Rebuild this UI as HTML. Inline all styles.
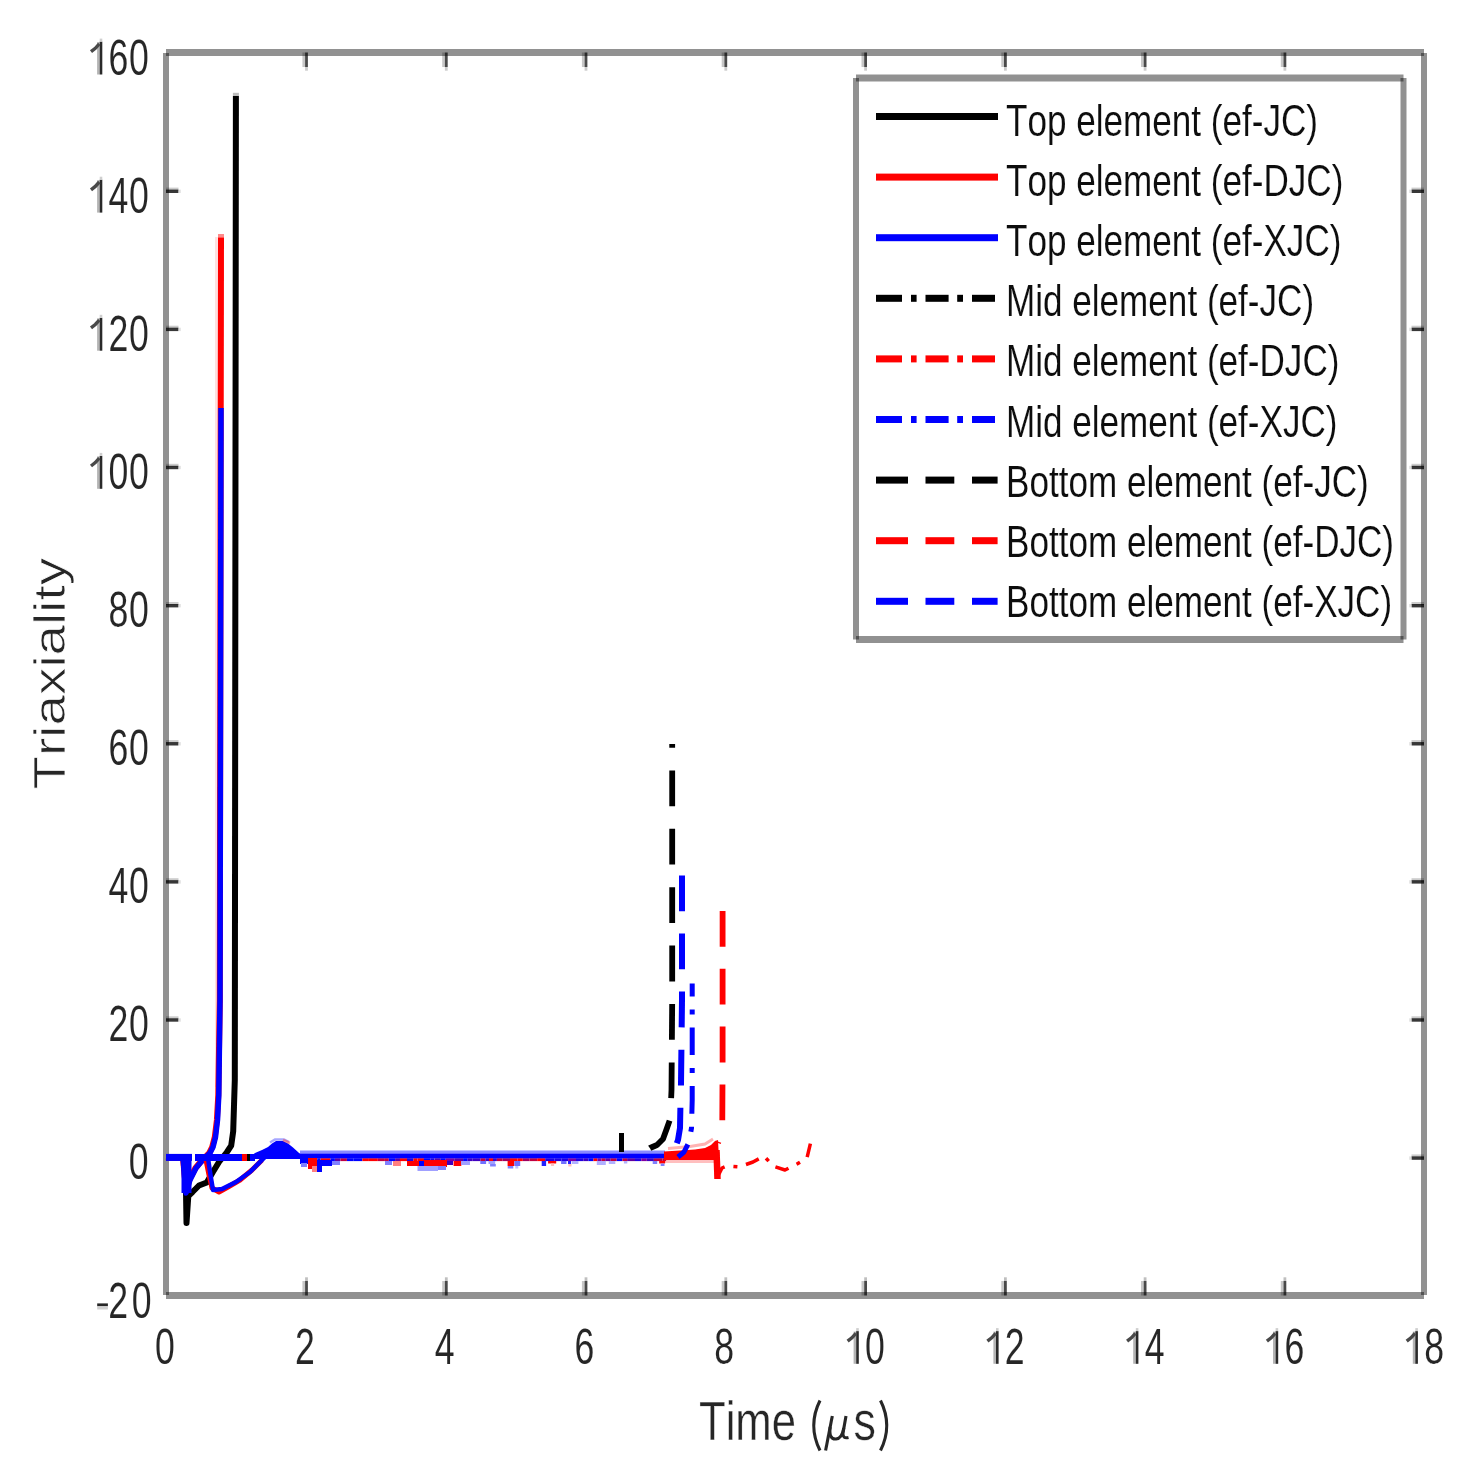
<!DOCTYPE html>
<html><head><meta charset="utf-8"><style>
html,body{margin:0;padding:0;background:#fff;}
body{width:1475px;height:1475px;overflow:hidden;}
svg{display:block;}
text{font-kerning:none;font-feature-settings:"kern" 0;}
</style></head><body>
<svg width="1475" height="1475" viewBox="0 0 1475 1475">
<defs><filter id="bl" x="0" y="0" width="1" height="1"><feGaussianBlur stdDeviation="0.55"/></filter></defs>
<rect width="1475" height="1475" fill="#fff"/>
<g filter="url(#bl)">
<rect width="1475" height="1475" fill="#fff"/>
<rect x="166.0" y="49.0" width="1258.0" height="7.0" fill="rgba(0,0,0,0.43)"/>
<rect x="166.0" y="1292.0" width="1258.0" height="7.0" fill="rgba(0,0,0,0.43)"/>
<rect x="163.0" y="53.0" width="6.0" height="1242.0" fill="rgba(0,0,0,0.43)"/>
<rect x="1421.0" y="53.0" width="6.0" height="1242.0" fill="rgba(0,0,0,0.43)"/>
<rect x="166.0" y="187.6" width="12.5" height="3.0" fill="rgba(0,0,0,0.2)"/>
<rect x="166.0" y="189.6" width="12.3" height="3.4" fill="rgba(0,0,0,0.78)"/>
<rect x="178.3" y="189.6" width="2.5" height="3.4" fill="rgba(0,0,0,0.12)"/>
<rect x="1411.5" y="187.6" width="12.5" height="3.0" fill="rgba(0,0,0,0.2)"/>
<rect x="1411.7" y="189.6" width="12.3" height="3.4" fill="rgba(0,0,0,0.78)"/>
<rect x="1409.2" y="189.6" width="2.5" height="3.4" fill="rgba(0,0,0,0.12)"/>
<rect x="166.0" y="325.7" width="12.5" height="3.0" fill="rgba(0,0,0,0.2)"/>
<rect x="166.0" y="327.7" width="12.3" height="3.4" fill="rgba(0,0,0,0.78)"/>
<rect x="178.3" y="327.7" width="2.5" height="3.4" fill="rgba(0,0,0,0.12)"/>
<rect x="1411.5" y="325.7" width="12.5" height="3.0" fill="rgba(0,0,0,0.2)"/>
<rect x="1411.7" y="327.7" width="12.3" height="3.4" fill="rgba(0,0,0,0.78)"/>
<rect x="1409.2" y="327.7" width="2.5" height="3.4" fill="rgba(0,0,0,0.12)"/>
<rect x="166.0" y="463.8" width="12.5" height="3.0" fill="rgba(0,0,0,0.2)"/>
<rect x="166.0" y="465.8" width="12.3" height="3.4" fill="rgba(0,0,0,0.78)"/>
<rect x="178.3" y="465.8" width="2.5" height="3.4" fill="rgba(0,0,0,0.12)"/>
<rect x="1411.5" y="463.8" width="12.5" height="3.0" fill="rgba(0,0,0,0.2)"/>
<rect x="1411.7" y="465.8" width="12.3" height="3.4" fill="rgba(0,0,0,0.78)"/>
<rect x="1409.2" y="465.8" width="2.5" height="3.4" fill="rgba(0,0,0,0.12)"/>
<rect x="166.0" y="602.0" width="12.5" height="3.0" fill="rgba(0,0,0,0.2)"/>
<rect x="166.0" y="604.0" width="12.3" height="3.4" fill="rgba(0,0,0,0.78)"/>
<rect x="178.3" y="604.0" width="2.5" height="3.4" fill="rgba(0,0,0,0.12)"/>
<rect x="1411.5" y="602.0" width="12.5" height="3.0" fill="rgba(0,0,0,0.2)"/>
<rect x="1411.7" y="604.0" width="12.3" height="3.4" fill="rgba(0,0,0,0.78)"/>
<rect x="1409.2" y="604.0" width="2.5" height="3.4" fill="rgba(0,0,0,0.12)"/>
<rect x="166.0" y="740.1" width="12.5" height="3.0" fill="rgba(0,0,0,0.2)"/>
<rect x="166.0" y="742.1" width="12.3" height="3.4" fill="rgba(0,0,0,0.78)"/>
<rect x="178.3" y="742.1" width="2.5" height="3.4" fill="rgba(0,0,0,0.12)"/>
<rect x="1411.5" y="740.1" width="12.5" height="3.0" fill="rgba(0,0,0,0.2)"/>
<rect x="1411.7" y="742.1" width="12.3" height="3.4" fill="rgba(0,0,0,0.78)"/>
<rect x="1409.2" y="742.1" width="2.5" height="3.4" fill="rgba(0,0,0,0.12)"/>
<rect x="166.0" y="878.2" width="12.5" height="3.0" fill="rgba(0,0,0,0.2)"/>
<rect x="166.0" y="880.2" width="12.3" height="3.4" fill="rgba(0,0,0,0.78)"/>
<rect x="178.3" y="880.2" width="2.5" height="3.4" fill="rgba(0,0,0,0.12)"/>
<rect x="1411.5" y="878.2" width="12.5" height="3.0" fill="rgba(0,0,0,0.2)"/>
<rect x="1411.7" y="880.2" width="12.3" height="3.4" fill="rgba(0,0,0,0.78)"/>
<rect x="1409.2" y="880.2" width="2.5" height="3.4" fill="rgba(0,0,0,0.12)"/>
<rect x="166.0" y="1016.3" width="12.5" height="3.0" fill="rgba(0,0,0,0.2)"/>
<rect x="166.0" y="1018.3" width="12.3" height="3.4" fill="rgba(0,0,0,0.78)"/>
<rect x="178.3" y="1018.3" width="2.5" height="3.4" fill="rgba(0,0,0,0.12)"/>
<rect x="1411.5" y="1016.3" width="12.5" height="3.0" fill="rgba(0,0,0,0.2)"/>
<rect x="1411.7" y="1018.3" width="12.3" height="3.4" fill="rgba(0,0,0,0.78)"/>
<rect x="1409.2" y="1018.3" width="2.5" height="3.4" fill="rgba(0,0,0,0.12)"/>
<rect x="166.0" y="1154.4" width="12.5" height="3.0" fill="rgba(0,0,0,0.2)"/>
<rect x="166.0" y="1156.4" width="12.3" height="3.4" fill="rgba(0,0,0,0.78)"/>
<rect x="178.3" y="1156.4" width="2.5" height="3.4" fill="rgba(0,0,0,0.12)"/>
<rect x="1411.5" y="1154.4" width="12.5" height="3.0" fill="rgba(0,0,0,0.2)"/>
<rect x="1411.7" y="1156.4" width="12.3" height="3.4" fill="rgba(0,0,0,0.78)"/>
<rect x="1409.2" y="1156.4" width="2.5" height="3.4" fill="rgba(0,0,0,0.12)"/>
<rect x="302.4" y="1281.0" width="2.7" height="14.5" fill="rgba(0,0,0,0.22)"/>
<rect x="305.1" y="1281.0" width="2.8" height="14.5" fill="rgba(0,0,0,0.71)"/>
<rect x="305.1" y="1277.3" width="2.8" height="3.7" fill="rgba(0,0,0,0.25)"/>
<rect x="302.4" y="52.5" width="2.7" height="14.5" fill="rgba(0,0,0,0.22)"/>
<rect x="305.1" y="52.5" width="2.8" height="14.5" fill="rgba(0,0,0,0.71)"/>
<rect x="305.1" y="67.0" width="2.8" height="3.7" fill="rgba(0,0,0,0.2)"/>
<rect x="442.2" y="1281.0" width="2.7" height="14.5" fill="rgba(0,0,0,0.22)"/>
<rect x="444.9" y="1281.0" width="2.8" height="14.5" fill="rgba(0,0,0,0.71)"/>
<rect x="444.9" y="1277.3" width="2.8" height="3.7" fill="rgba(0,0,0,0.25)"/>
<rect x="442.2" y="52.5" width="2.7" height="14.5" fill="rgba(0,0,0,0.22)"/>
<rect x="444.9" y="52.5" width="2.8" height="14.5" fill="rgba(0,0,0,0.71)"/>
<rect x="444.9" y="67.0" width="2.8" height="3.7" fill="rgba(0,0,0,0.2)"/>
<rect x="581.9" y="1281.0" width="2.7" height="14.5" fill="rgba(0,0,0,0.22)"/>
<rect x="584.6" y="1281.0" width="2.8" height="14.5" fill="rgba(0,0,0,0.71)"/>
<rect x="584.6" y="1277.3" width="2.8" height="3.7" fill="rgba(0,0,0,0.25)"/>
<rect x="581.9" y="52.5" width="2.7" height="14.5" fill="rgba(0,0,0,0.22)"/>
<rect x="584.6" y="52.5" width="2.8" height="14.5" fill="rgba(0,0,0,0.71)"/>
<rect x="584.6" y="67.0" width="2.8" height="3.7" fill="rgba(0,0,0,0.2)"/>
<rect x="721.7" y="1281.0" width="2.7" height="14.5" fill="rgba(0,0,0,0.22)"/>
<rect x="724.4" y="1281.0" width="2.8" height="14.5" fill="rgba(0,0,0,0.71)"/>
<rect x="724.4" y="1277.3" width="2.8" height="3.7" fill="rgba(0,0,0,0.25)"/>
<rect x="721.7" y="52.5" width="2.7" height="14.5" fill="rgba(0,0,0,0.22)"/>
<rect x="724.4" y="52.5" width="2.8" height="14.5" fill="rgba(0,0,0,0.71)"/>
<rect x="724.4" y="67.0" width="2.8" height="3.7" fill="rgba(0,0,0,0.2)"/>
<rect x="861.5" y="1281.0" width="2.7" height="14.5" fill="rgba(0,0,0,0.22)"/>
<rect x="864.2" y="1281.0" width="2.8" height="14.5" fill="rgba(0,0,0,0.71)"/>
<rect x="864.2" y="1277.3" width="2.8" height="3.7" fill="rgba(0,0,0,0.25)"/>
<rect x="861.5" y="52.5" width="2.7" height="14.5" fill="rgba(0,0,0,0.22)"/>
<rect x="864.2" y="52.5" width="2.8" height="14.5" fill="rgba(0,0,0,0.71)"/>
<rect x="864.2" y="67.0" width="2.8" height="3.7" fill="rgba(0,0,0,0.2)"/>
<rect x="1001.3" y="1281.0" width="2.7" height="14.5" fill="rgba(0,0,0,0.22)"/>
<rect x="1004.0" y="1281.0" width="2.8" height="14.5" fill="rgba(0,0,0,0.71)"/>
<rect x="1004.0" y="1277.3" width="2.8" height="3.7" fill="rgba(0,0,0,0.25)"/>
<rect x="1001.3" y="52.5" width="2.7" height="14.5" fill="rgba(0,0,0,0.22)"/>
<rect x="1004.0" y="52.5" width="2.8" height="14.5" fill="rgba(0,0,0,0.71)"/>
<rect x="1004.0" y="67.0" width="2.8" height="3.7" fill="rgba(0,0,0,0.2)"/>
<rect x="1141.0" y="1281.0" width="2.7" height="14.5" fill="rgba(0,0,0,0.22)"/>
<rect x="1143.7" y="1281.0" width="2.8" height="14.5" fill="rgba(0,0,0,0.71)"/>
<rect x="1143.7" y="1277.3" width="2.8" height="3.7" fill="rgba(0,0,0,0.25)"/>
<rect x="1141.0" y="52.5" width="2.7" height="14.5" fill="rgba(0,0,0,0.22)"/>
<rect x="1143.7" y="52.5" width="2.8" height="14.5" fill="rgba(0,0,0,0.71)"/>
<rect x="1143.7" y="67.0" width="2.8" height="3.7" fill="rgba(0,0,0,0.2)"/>
<rect x="1280.8" y="1281.0" width="2.7" height="14.5" fill="rgba(0,0,0,0.22)"/>
<rect x="1283.5" y="1281.0" width="2.8" height="14.5" fill="rgba(0,0,0,0.71)"/>
<rect x="1283.5" y="1277.3" width="2.8" height="3.7" fill="rgba(0,0,0,0.25)"/>
<rect x="1280.8" y="52.5" width="2.7" height="14.5" fill="rgba(0,0,0,0.22)"/>
<rect x="1283.5" y="52.5" width="2.8" height="14.5" fill="rgba(0,0,0,0.71)"/>
<rect x="1283.5" y="67.0" width="2.8" height="3.7" fill="rgba(0,0,0,0.2)"/>
<polyline points="166.0,1157.4 183.0,1157.4 185.5,1162.0 186.5,1223.0 188.3,1196.0 192.5,1192.0 199.0,1185.5 206.8,1182.5 212.9,1172.0 219.0,1162.0 227.0,1152.0 231.2,1145.6 233.2,1131.4 234.8,1080.0 235.9,95.7" fill="none" stroke="#000000" stroke-width="6" stroke-linejoin="round" stroke-linecap="butt"/>
<rect x="232.9" y="92.8" width="6.0" height="2.9" fill="#bdbdbd"/>
<polyline points="166.0,1157.4 183.0,1158.0 186.0,1190.0 190.0,1178.0 195.5,1168.0 200.5,1162.0 205.3,1157.0 209.2,1153.0 212.2,1147.0 214.8,1137.0 216.9,1120.0 218.3,1095.0 219.8,1000.0 221.0,237.3" fill="none" stroke="#ff0000" stroke-width="6" stroke-linejoin="round" stroke-linecap="butt"/>
<rect x="218.0" y="234.0" width="6.0" height="3.3" fill="#ff8a8a"/>
<rect x="215.0" y="237.0" width="2.8" height="850.0" fill="rgba(255,0,0,0.12)"/>
<polyline points="166.0,1157.4 183.0,1158.0 186.0,1193.0 190.0,1180.0 196.0,1168.0 201.0,1162.0 206.0,1157.0 210.0,1153.0 213.0,1147.0 215.5,1137.0 217.5,1120.0 218.8,1095.0 220.0,1000.0 221.0,408.0" fill="none" stroke="#0000ff" stroke-width="5.5" stroke-linejoin="round" stroke-linecap="butt"/>
<rect x="181.5" y="1157.0" width="10.0" height="36.0" fill="#0000ff"/>
<polyline points="206.0,1160.0 209.0,1175.0 212.0,1188.0 219.0,1192.0 228.0,1187.0 240.0,1180.0 252.0,1170.0 262.0,1160.0" fill="none" stroke="#ff0000" stroke-width="5" stroke-linejoin="round" stroke-linecap="butt"/>
<polyline points="208.0,1158.0 210.5,1175.0 213.0,1190.0 222.0,1189.0 236.0,1182.0 250.0,1172.0 262.0,1160.0 270.0,1152.0" fill="none" stroke="#0000ff" stroke-width="4.5" stroke-linejoin="round" stroke-linecap="butt"/>
<rect x="195.0" y="1154.0" width="60.0" height="7.0" fill="#0000ff"/>
<rect x="300.0" y="1158.2" width="4.9" height="2.9" fill="#c00040"/>
<rect x="304.9" y="1158.2" width="5.4" height="2.9" fill="#ff0000"/>
<rect x="310.3" y="1158.2" width="3.4" height="2.9" fill="#0000ff"/>
<rect x="313.7" y="1158.2" width="3.6" height="2.9" fill="#0000ff"/>
<rect x="317.3" y="1158.2" width="3.3" height="2.9" fill="#0000ff"/>
<rect x="320.7" y="1158.2" width="4.3" height="2.9" fill="#ff0000"/>
<rect x="324.9" y="1158.2" width="5.6" height="2.9" fill="#ff0000"/>
<rect x="330.5" y="1158.2" width="4.4" height="2.9" fill="#0000ff"/>
<rect x="335.0" y="1158.2" width="5.5" height="2.9" fill="#6000a0"/>
<rect x="340.5" y="1158.2" width="6.4" height="2.9" fill="#c00040"/>
<rect x="346.9" y="1158.2" width="6.8" height="2.9" fill="#0000ff"/>
<rect x="353.7" y="1158.2" width="8.7" height="2.9" fill="#0000ff"/>
<rect x="362.4" y="1158.2" width="6.5" height="2.9" fill="#ff0000"/>
<rect x="368.9" y="1158.2" width="8.9" height="2.9" fill="#ff0000"/>
<rect x="377.8" y="1158.2" width="6.3" height="2.9" fill="#c00040"/>
<rect x="384.1" y="1158.2" width="4.7" height="2.9" fill="#c00040"/>
<rect x="388.9" y="1158.2" width="6.2" height="2.9" fill="#0000ff"/>
<rect x="395.1" y="1158.2" width="4.9" height="2.9" fill="#6000a0"/>
<rect x="399.9" y="1158.2" width="7.1" height="2.9" fill="#ff0000"/>
<rect x="407.0" y="1158.2" width="6.5" height="2.9" fill="#2000e0"/>
<rect x="413.5" y="1158.2" width="4.1" height="2.9" fill="#ff0000"/>
<rect x="417.7" y="1158.2" width="6.3" height="2.9" fill="#ff0000"/>
<rect x="423.9" y="1158.2" width="6.4" height="2.9" fill="#0000ff"/>
<rect x="430.3" y="1158.2" width="4.2" height="2.9" fill="#2000e0"/>
<rect x="434.6" y="1158.2" width="6.2" height="2.9" fill="#6000a0"/>
<rect x="440.8" y="1158.2" width="4.9" height="2.9" fill="#0000ff"/>
<rect x="445.6" y="1158.2" width="8.5" height="2.9" fill="#8000a0"/>
<rect x="454.2" y="1158.2" width="4.8" height="2.9" fill="#6000a0"/>
<rect x="459.0" y="1158.2" width="4.1" height="2.9" fill="#6000a0"/>
<rect x="463.1" y="1158.2" width="4.5" height="2.9" fill="#0000ff"/>
<rect x="467.5" y="1158.2" width="4.8" height="2.9" fill="#4000c0"/>
<rect x="472.3" y="1158.2" width="8.3" height="2.9" fill="#4000c0"/>
<rect x="480.6" y="1158.2" width="4.7" height="2.9" fill="#c00040"/>
<rect x="485.3" y="1158.2" width="3.7" height="2.9" fill="#4000c0"/>
<rect x="489.0" y="1158.2" width="4.0" height="2.9" fill="#ff0000"/>
<rect x="493.0" y="1158.2" width="3.9" height="2.9" fill="#4000c0"/>
<rect x="496.9" y="1158.2" width="5.5" height="2.9" fill="#c00040"/>
<rect x="502.4" y="1158.2" width="7.6" height="2.9" fill="#a00060"/>
<rect x="510.0" y="1158.2" width="7.7" height="2.9" fill="#ff0000"/>
<rect x="517.8" y="1158.2" width="5.0" height="2.9" fill="#ff0000"/>
<rect x="522.8" y="1158.2" width="6.6" height="2.9" fill="#a00060"/>
<rect x="529.4" y="1158.2" width="7.8" height="2.9" fill="#c00040"/>
<rect x="537.2" y="1158.2" width="8.0" height="2.9" fill="#ff0000"/>
<rect x="545.2" y="1158.2" width="5.8" height="2.9" fill="#2000e0"/>
<rect x="551.0" y="1158.2" width="3.4" height="2.9" fill="#2000e0"/>
<rect x="554.4" y="1158.2" width="7.2" height="2.9" fill="#2000e0"/>
<rect x="561.6" y="1158.2" width="6.5" height="2.9" fill="#2000e0"/>
<rect x="568.1" y="1158.2" width="7.9" height="2.9" fill="#8000a0"/>
<rect x="576.0" y="1158.2" width="7.3" height="2.9" fill="#2000e0"/>
<rect x="583.3" y="1158.2" width="5.1" height="2.9" fill="#4000c0"/>
<rect x="588.4" y="1158.2" width="5.1" height="2.9" fill="#0000ff"/>
<rect x="593.5" y="1158.2" width="3.7" height="2.9" fill="#ff0000"/>
<rect x="597.3" y="1158.2" width="4.3" height="2.9" fill="#8000a0"/>
<rect x="601.6" y="1158.2" width="3.8" height="2.9" fill="#c00040"/>
<rect x="605.3" y="1158.2" width="5.4" height="2.9" fill="#6000a0"/>
<rect x="610.7" y="1158.2" width="6.0" height="2.9" fill="#c00040"/>
<rect x="616.7" y="1158.2" width="5.7" height="2.9" fill="#0000ff"/>
<rect x="622.4" y="1158.2" width="4.7" height="2.9" fill="#c00040"/>
<rect x="627.1" y="1158.2" width="7.9" height="2.9" fill="#6000a0"/>
<rect x="635.0" y="1158.2" width="6.3" height="2.9" fill="#2000e0"/>
<rect x="641.3" y="1158.2" width="5.5" height="2.9" fill="#8000a0"/>
<rect x="646.8" y="1158.2" width="7.1" height="2.9" fill="#4000c0"/>
<rect x="653.9" y="1158.2" width="8.7" height="2.9" fill="#c00040"/>
<rect x="662.6" y="1158.2" width="3.5" height="2.9" fill="#c00040"/>
<rect x="480.3" y="1161.0" width="5.8" height="3.0" fill="#7070ff"/>
<rect x="488.5" y="1161.0" width="6.7" height="3.0" fill="#a0a0ff"/>
<rect x="490.1" y="1164.0" width="5.7" height="2.5" fill="#8080ff"/>
<rect x="507.6" y="1161.0" width="6.7" height="5.0" fill="#ff0000"/>
<rect x="507.7" y="1166.0" width="5.6" height="2.5" fill="#8080ff"/>
<rect x="514.4" y="1161.0" width="5.8" height="5.0" fill="#7070ff"/>
<rect x="515.3" y="1166.0" width="3.0" height="2.5" fill="#c0c0ff"/>
<rect x="541.7" y="1161.0" width="4.4" height="5.0" fill="#2020ff"/>
<rect x="548.1" y="1161.0" width="8.1" height="2.5" fill="#ff0000"/>
<rect x="550.9" y="1163.5" width="3.2" height="2.5" fill="#ffc0c0"/>
<rect x="561.1" y="1161.0" width="5.4" height="3.0" fill="#7070ff"/>
<rect x="568.0" y="1161.0" width="3.1" height="3.0" fill="#2020ff"/>
<rect x="568.3" y="1164.0" width="3.2" height="2.5" fill="#ffc0c0"/>
<rect x="572.0" y="1161.0" width="6.4" height="3.0" fill="#b0b0ff"/>
<rect x="596.8" y="1161.0" width="9.0" height="4.0" fill="#b0b0ff"/>
<rect x="608.8" y="1161.0" width="6.5" height="3.0" fill="#b0b0ff"/>
<rect x="623.9" y="1161.0" width="3.4" height="2.5" fill="#b0b0ff"/>
<rect x="652.7" y="1161.0" width="4.5" height="3.0" fill="#8080ff"/>
<rect x="659.2" y="1161.0" width="5.9" height="2.5" fill="#ff0000"/>
<rect x="660.7" y="1163.5" width="3.8" height="2.5" fill="#8080ff"/>
<rect x="300.0" y="1150.5" width="365.0" height="3.0" fill="rgba(40,40,255,0.55)"/>
<rect x="255.0" y="1153.5" width="410.0" height="4.8" fill="#0000ff"/>
<polygon points="249,1158 255,1153 262,1150 268,1147 272,1143.5 276,1141 283,1141 288,1143.5 293,1147.5 298,1152 302,1156 302,1159 249,1159" fill="#0000ff"/>
<polyline points="270,1142.5 275,1139.5 284,1139.5 289,1142" fill="none" stroke="rgba(60,60,255,0.45)" stroke-width="2.5"/>
<polyline points="283,1140 290,1143" fill="none" stroke="rgba(255,60,60,0.5)" stroke-width="2.5"/>
<rect x="300.0" y="1158.0" width="8.0" height="6.0" fill="#0000ff"/>
<rect x="308.0" y="1158.0" width="9.0" height="11.0" fill="#ff0000"/>
<rect x="312.0" y="1166.0" width="5.0" height="6.0" fill="#ff8080"/>
<rect x="317.0" y="1160.0" width="5.0" height="12.0" fill="#0000ff"/>
<rect x="322.0" y="1160.0" width="10.0" height="6.0" fill="#0000ff"/>
<rect x="332.0" y="1161.0" width="8.0" height="4.0" fill="#8080ff"/>
<rect x="301.0" y="1163.0" width="6.0" height="4.0" fill="#8080ff"/>
<rect x="393.0" y="1161.0" width="8.0" height="5.0" fill="#ff8080"/>
<rect x="407.0" y="1161.0" width="12.0" height="5.0" fill="#ff0000"/>
<rect x="419.0" y="1161.0" width="5.0" height="5.0" fill="#0000ff"/>
<rect x="424.0" y="1160.0" width="23.0" height="7.0" fill="#ff0000"/>
<rect x="447.0" y="1161.0" width="6.0" height="4.0" fill="#4000c0"/>
<rect x="453.6" y="1161.0" width="7.7" height="5.0" fill="#ff0000"/>
<rect x="417.5" y="1166.0" width="20.5" height="5.0" fill="#a0a0ff"/>
<rect x="438.0" y="1166.0" width="8.0" height="4.0" fill="#8080ff"/>
<rect x="385.0" y="1161.0" width="7.0" height="4.0" fill="#8080ff"/>
<rect x="461.0" y="1161.0" width="9.0" height="4.0" fill="#a0a0ff"/>
<rect x="242.0" y="1154.0" width="5.0" height="7.0" fill="#ff0000"/>
<rect x="247.0" y="1154.0" width="3.0" height="7.0" fill="#000000"/>
<polygon points="664,1151.5 680,1150.5 695,1149.5 705,1148 711,1145 715,1141 718,1140 719,1160 664,1160" fill="#ff0000"/>
<polyline points="668,1148.5 690,1146.5 705,1144 713,1139" fill="none" stroke="rgba(255,0,0,0.3)" stroke-width="3"/>
<rect x="664.0" y="1160.0" width="50.0" height="3.0" fill="rgba(255,0,0,0.25)"/>
<polyline points="716.5,1150.0 717.5,1179.0" fill="none" stroke="#ff0000" stroke-width="6.5" stroke-linejoin="round" stroke-linecap="butt"/>
<polyline points="717.0,1178.0 722.0,1168.0 727.0,1166.0 739.0,1167.0 753.0,1162.0 764.0,1156.0 773.0,1166.0 785.0,1170.0 797.0,1164.0 807.0,1158.0 811.0,1141.0" fill="none" stroke="#ff0000" stroke-width="3.5" stroke-linejoin="round" stroke-linecap="butt" stroke-dasharray="14 9 4 9" stroke-dashoffset="0"/>
<polyline points="621.5,1152.0 621.5,1133.0" fill="none" stroke="#000000" stroke-width="5" stroke-linejoin="round" stroke-linecap="butt"/>
<polyline points="672.2,744.0 672.2,1000.0 671.5,1090.0 670.3,1118.6 667.0,1128.0 663.0,1139.0 657.0,1145.0 650.0,1148.0 640.0,1155.0" fill="none" stroke="#000000" stroke-width="5.8" stroke-linejoin="round" stroke-linecap="butt" stroke-dasharray="35.8 22.6" stroke-dashoffset="32"/>
<polyline points="722.6,911.0 722.6,1060.0 722.3,1121.0 721.0,1135.0 718.0,1143.0" fill="none" stroke="#ff0000" stroke-width="5.8" stroke-linejoin="round" stroke-linecap="butt" stroke-dasharray="35.8 22" stroke-dashoffset="0"/>
<polyline points="692.2,983.4 692.2,1100.0 691.5,1128.0 689.0,1142.0 684.0,1152.0 678.0,1157.0" fill="none" stroke="#0000ff" stroke-width="5" stroke-linejoin="round" stroke-linecap="butt" stroke-dasharray="27.7 13 5 13" stroke-dashoffset="14.7"/>
<polyline points="166.0,1157.4 192.0,1157.4" fill="none" stroke="#0000ff" stroke-width="7" stroke-linejoin="round" stroke-linecap="butt"/>
<polyline points="682.0,875.4 682.0,1000.0 681.0,1083.6 680.4,1107.0 680.0,1128.0 678.0,1140.0 675.0,1148.0 670.0,1152.0 665.0,1154.0" fill="none" stroke="#0000ff" stroke-width="6" stroke-linejoin="round" stroke-linecap="butt" stroke-dasharray="35.8 22.3" stroke-dashoffset="0"/>
<rect x="97.1" y="42.1" width="2.6" height="32.4" fill="#b4b4b4"/>
<rect x="99.7" y="41.6" width="2.6" height="32.9" fill="#2a2a2a"/>
<rect x="99.7" y="38.6" width="2.6" height="3.0" fill="#cfcfcf"/>
<polyline points="91.0,51.7 95.3,48.3 99.3,43.9" fill="none" stroke="#4a4a4a" stroke-width="3.4"/>
<text font-family="Liberation Sans, sans-serif" fill="#262626" stroke="#fff" stroke-width="0.1" font-size="49.5" text-anchor="middle" transform="translate(118.40,74.51) scale(0.72,1)">6</text>
<text font-family="Liberation Sans, sans-serif" fill="#262626" stroke="#fff" stroke-width="0.1" font-size="49.5" text-anchor="middle" transform="translate(138.80,74.51) scale(0.72,1)">0</text>
<rect x="97.1" y="180.2" width="2.6" height="32.4" fill="#b4b4b4"/>
<rect x="99.7" y="179.7" width="2.6" height="32.9" fill="#2a2a2a"/>
<rect x="99.7" y="176.7" width="2.6" height="3.0" fill="#cfcfcf"/>
<polyline points="91.0,189.8 95.3,186.4 99.3,182.0" fill="none" stroke="#4a4a4a" stroke-width="3.4"/>
<text font-family="Liberation Sans, sans-serif" fill="#262626" stroke="#fff" stroke-width="0.1" font-size="49.5" text-anchor="middle" transform="translate(118.40,212.62) scale(0.72,1)">4</text>
<text font-family="Liberation Sans, sans-serif" fill="#262626" stroke="#fff" stroke-width="0.1" font-size="49.5" text-anchor="middle" transform="translate(138.80,212.62) scale(0.72,1)">0</text>
<rect x="97.1" y="318.3" width="2.6" height="32.4" fill="#b4b4b4"/>
<rect x="99.7" y="317.8" width="2.6" height="32.9" fill="#2a2a2a"/>
<rect x="99.7" y="314.8" width="2.6" height="3.0" fill="#cfcfcf"/>
<polyline points="91.0,327.9 95.3,324.5 99.3,320.1" fill="none" stroke="#4a4a4a" stroke-width="3.4"/>
<text font-family="Liberation Sans, sans-serif" fill="#262626" stroke="#fff" stroke-width="0.1" font-size="49.5" text-anchor="middle" transform="translate(118.40,350.73) scale(0.72,1)">2</text>
<text font-family="Liberation Sans, sans-serif" fill="#262626" stroke="#fff" stroke-width="0.1" font-size="49.5" text-anchor="middle" transform="translate(138.80,350.73) scale(0.72,1)">0</text>
<rect x="97.1" y="456.4" width="2.6" height="32.4" fill="#b4b4b4"/>
<rect x="99.7" y="455.9" width="2.6" height="32.9" fill="#2a2a2a"/>
<rect x="99.7" y="452.9" width="2.6" height="3.0" fill="#cfcfcf"/>
<polyline points="91.0,466.0 95.3,462.6 99.3,458.2" fill="none" stroke="#4a4a4a" stroke-width="3.4"/>
<text font-family="Liberation Sans, sans-serif" fill="#262626" stroke="#fff" stroke-width="0.1" font-size="49.5" text-anchor="middle" transform="translate(118.40,488.84) scale(0.72,1)">0</text>
<text font-family="Liberation Sans, sans-serif" fill="#262626" stroke="#fff" stroke-width="0.1" font-size="49.5" text-anchor="middle" transform="translate(138.80,488.84) scale(0.72,1)">0</text>
<text font-family="Liberation Sans, sans-serif" fill="#262626" stroke="#fff" stroke-width="0.1" font-size="49.5" text-anchor="middle" transform="translate(118.40,626.96) scale(0.72,1)">8</text>
<text font-family="Liberation Sans, sans-serif" fill="#262626" stroke="#fff" stroke-width="0.1" font-size="49.5" text-anchor="middle" transform="translate(138.80,626.96) scale(0.72,1)">0</text>
<text font-family="Liberation Sans, sans-serif" fill="#262626" stroke="#fff" stroke-width="0.1" font-size="49.5" text-anchor="middle" transform="translate(118.40,765.07) scale(0.72,1)">6</text>
<text font-family="Liberation Sans, sans-serif" fill="#262626" stroke="#fff" stroke-width="0.1" font-size="49.5" text-anchor="middle" transform="translate(138.80,765.07) scale(0.72,1)">0</text>
<text font-family="Liberation Sans, sans-serif" fill="#262626" stroke="#fff" stroke-width="0.1" font-size="49.5" text-anchor="middle" transform="translate(118.40,903.18) scale(0.72,1)">4</text>
<text font-family="Liberation Sans, sans-serif" fill="#262626" stroke="#fff" stroke-width="0.1" font-size="49.5" text-anchor="middle" transform="translate(138.80,903.18) scale(0.72,1)">0</text>
<text font-family="Liberation Sans, sans-serif" fill="#262626" stroke="#fff" stroke-width="0.1" font-size="49.5" text-anchor="middle" transform="translate(118.40,1041.29) scale(0.72,1)">2</text>
<text font-family="Liberation Sans, sans-serif" fill="#262626" stroke="#fff" stroke-width="0.1" font-size="49.5" text-anchor="middle" transform="translate(138.80,1041.29) scale(0.72,1)">0</text>
<text font-family="Liberation Sans, sans-serif" fill="#262626" stroke="#fff" stroke-width="0.1" font-size="49.5" text-anchor="middle" transform="translate(138.65,1179.40) scale(0.72,1)">0</text>
<rect x="97.2" y="1303.4" width="10.7" height="2.9" fill="#262626"/>
<rect x="97.2" y="1306.3" width="10.7" height="3.2" fill="#d0d0d0"/>
<text font-family="Liberation Sans, sans-serif" fill="#262626" stroke="#fff" stroke-width="0.1" font-size="49.5" text-anchor="middle" transform="translate(118.25,1317.51) scale(0.72,1)">2</text>
<text font-family="Liberation Sans, sans-serif" fill="#262626" stroke="#fff" stroke-width="0.1" font-size="49.5" text-anchor="middle" transform="translate(141.65,1317.51) scale(0.72,1)">0</text>
<text font-family="Liberation Sans, sans-serif" fill="#262626" stroke="#fff" stroke-width="0.1" font-size="49.5" text-anchor="middle" transform="translate(165.00,1363.80) scale(0.72,1)">0</text>
<text font-family="Liberation Sans, sans-serif" fill="#262626" stroke="#fff" stroke-width="0.1" font-size="49.5" text-anchor="middle" transform="translate(304.78,1363.80) scale(0.72,1)">2</text>
<text font-family="Liberation Sans, sans-serif" fill="#262626" stroke="#fff" stroke-width="0.1" font-size="49.5" text-anchor="middle" transform="translate(444.56,1363.80) scale(0.72,1)">4</text>
<text font-family="Liberation Sans, sans-serif" fill="#262626" stroke="#fff" stroke-width="0.1" font-size="49.5" text-anchor="middle" transform="translate(584.33,1363.80) scale(0.72,1)">6</text>
<text font-family="Liberation Sans, sans-serif" fill="#262626" stroke="#fff" stroke-width="0.1" font-size="49.5" text-anchor="middle" transform="translate(724.11,1363.80) scale(0.72,1)">8</text>
<rect x="853.6" y="1331.6" width="2.6" height="32.2" fill="#b4b4b4"/>
<rect x="856.2" y="1331.1" width="2.6" height="32.7" fill="#2a2a2a"/>
<rect x="856.2" y="1328.1" width="2.6" height="3.0" fill="#cfcfcf"/>
<polyline points="847.6,1341.2 851.9,1337.8 855.9,1333.4" fill="none" stroke="#4a4a4a" stroke-width="3.4"/>
<text font-family="Liberation Sans, sans-serif" fill="#262626" stroke="#fff" stroke-width="0.1" font-size="49.5" text-anchor="middle" transform="translate(874.99,1363.80) scale(0.72,1)">0</text>
<rect x="993.4" y="1331.6" width="2.6" height="32.2" fill="#b4b4b4"/>
<rect x="996.0" y="1331.1" width="2.6" height="32.7" fill="#2a2a2a"/>
<rect x="996.0" y="1328.1" width="2.6" height="3.0" fill="#cfcfcf"/>
<polyline points="987.4,1341.2 991.7,1337.8 995.7,1333.4" fill="none" stroke="#4a4a4a" stroke-width="3.4"/>
<text font-family="Liberation Sans, sans-serif" fill="#262626" stroke="#fff" stroke-width="0.1" font-size="49.5" text-anchor="middle" transform="translate(1014.77,1363.80) scale(0.72,1)">2</text>
<rect x="1133.2" y="1331.6" width="2.6" height="32.2" fill="#b4b4b4"/>
<rect x="1135.8" y="1331.1" width="2.6" height="32.7" fill="#2a2a2a"/>
<rect x="1135.8" y="1328.1" width="2.6" height="3.0" fill="#cfcfcf"/>
<polyline points="1127.1,1341.2 1131.4,1337.8 1135.4,1333.4" fill="none" stroke="#4a4a4a" stroke-width="3.4"/>
<text font-family="Liberation Sans, sans-serif" fill="#262626" stroke="#fff" stroke-width="0.1" font-size="49.5" text-anchor="middle" transform="translate(1154.54,1363.80) scale(0.72,1)">4</text>
<rect x="1273.0" y="1331.6" width="2.6" height="32.2" fill="#b4b4b4"/>
<rect x="1275.6" y="1331.1" width="2.6" height="32.7" fill="#2a2a2a"/>
<rect x="1275.6" y="1328.1" width="2.6" height="3.0" fill="#cfcfcf"/>
<polyline points="1266.9,1341.2 1271.2,1337.8 1275.2,1333.4" fill="none" stroke="#4a4a4a" stroke-width="3.4"/>
<text font-family="Liberation Sans, sans-serif" fill="#262626" stroke="#fff" stroke-width="0.1" font-size="49.5" text-anchor="middle" transform="translate(1294.32,1363.80) scale(0.72,1)">6</text>
<rect x="1412.8" y="1331.6" width="2.6" height="32.2" fill="#b4b4b4"/>
<rect x="1415.3" y="1331.1" width="2.6" height="32.7" fill="#2a2a2a"/>
<rect x="1415.3" y="1328.1" width="2.6" height="3.0" fill="#cfcfcf"/>
<polyline points="1406.7,1341.2 1411.0,1337.8 1415.0,1333.4" fill="none" stroke="#4a4a4a" stroke-width="3.4"/>
<text font-family="Liberation Sans, sans-serif" fill="#262626" stroke="#fff" stroke-width="0.1" font-size="49.5" text-anchor="middle" transform="translate(1434.10,1363.80) scale(0.72,1)">8</text>
<text font-family="Liberation Sans, sans-serif" fill="#262626" stroke="#fff" stroke-width="0.4" font-size="56" transform="translate(699,1440) scale(0.78,1)">Time</text>
<text font-family="Liberation Sans, sans-serif" fill="#262626" stroke="#fff" stroke-width="0.4" font-size="56" transform="translate(853.5,1440) scale(0.8,1)">s</text>
<path d="M 820 1400.5 Q 807.5 1425.5 820 1450.5" fill="none" stroke="#262626" stroke-width="3.1"/>
<path d="M 880.5 1400.5 Q 893 1425.5 880.5 1450.5" fill="none" stroke="#262626" stroke-width="3.1"/>
<path d="M 832.3 1416 L 825.6 1450.5" fill="none" stroke="#262626" stroke-width="3.1"/>
<path d="M 830.2 1427 Q 828.5 1439.5 836 1439 Q 842 1438.5 843.8 1428" fill="none" stroke="#262626" stroke-width="3.1"/>
<path d="M 846 1416 L 843 1433 Q 842.5 1439 848.5 1437.5" fill="none" stroke="#262626" stroke-width="3.1"/>
<text font-family="Liberation Sans, sans-serif" fill="#262626" stroke="#fff" stroke-width="0.9" font-size="56" transform="translate(65,789.5) rotate(-90) scale(0.98,0.8)">Triaxiality</text>
<rect x="856.0" y="78.0" width="547.5" height="561.5" fill="#fff"/>
<rect x="856.0" y="74.5" width="547.5" height="7.0" fill="rgba(0,0,0,0.43)"/>
<rect x="856.0" y="636.0" width="547.5" height="7.0" fill="rgba(0,0,0,0.43)"/>
<rect x="853.0" y="78.0" width="6.0" height="561.5" fill="rgba(0,0,0,0.43)"/>
<rect x="1400.5" y="78.0" width="6.0" height="561.5" fill="rgba(0,0,0,0.43)"/>
<rect x="876.0" y="113.0" width="122.0" height="7.0" fill="#000000"/>
<text font-family="Liberation Sans, sans-serif" fill="#0a0a0a" stroke="#fff" stroke-width="0.15" font-size="45" transform="translate(1006,135.6) scale(0.78,1)">Top element (ef-JC)</text>
<rect x="876.0" y="173.6" width="122.0" height="7.0" fill="#ff0000"/>
<text font-family="Liberation Sans, sans-serif" fill="#0a0a0a" stroke="#fff" stroke-width="0.15" font-size="45" transform="translate(1006,195.8) scale(0.78,1)">Top element (ef-DJC)</text>
<rect x="876.0" y="234.2" width="122.0" height="7.0" fill="#0000ff"/>
<text font-family="Liberation Sans, sans-serif" fill="#0a0a0a" stroke="#fff" stroke-width="0.15" font-size="45" transform="translate(1006,256.0) scale(0.78,1)">Top element (ef-XJC)</text>
<rect x="876.0" y="294.8" width="26.0" height="7.0" fill="#000000"/>
<rect x="911.0" y="294.8" width="5.6" height="7.0" fill="#000000"/>
<rect x="925.5" y="294.8" width="23.1" height="7.0" fill="#000000"/>
<rect x="957.2" y="294.8" width="5.8" height="7.0" fill="#000000"/>
<rect x="972.0" y="294.8" width="23.0" height="7.0" fill="#000000"/>
<text font-family="Liberation Sans, sans-serif" fill="#0a0a0a" stroke="#fff" stroke-width="0.15" font-size="45" transform="translate(1006,316.2) scale(0.78,1)">Mid element (ef-JC)</text>
<rect x="876.0" y="355.4" width="26.0" height="7.0" fill="#ff0000"/>
<rect x="911.0" y="355.4" width="5.6" height="7.0" fill="#ff0000"/>
<rect x="925.5" y="355.4" width="23.1" height="7.0" fill="#ff0000"/>
<rect x="957.2" y="355.4" width="5.8" height="7.0" fill="#ff0000"/>
<rect x="972.0" y="355.4" width="23.0" height="7.0" fill="#ff0000"/>
<text font-family="Liberation Sans, sans-serif" fill="#0a0a0a" stroke="#fff" stroke-width="0.15" font-size="45" transform="translate(1006,376.4) scale(0.78,1)">Mid element (ef-DJC)</text>
<rect x="876.0" y="416.0" width="26.0" height="7.0" fill="#0000ff"/>
<rect x="911.0" y="416.0" width="5.6" height="7.0" fill="#0000ff"/>
<rect x="925.5" y="416.0" width="23.1" height="7.0" fill="#0000ff"/>
<rect x="957.2" y="416.0" width="5.8" height="7.0" fill="#0000ff"/>
<rect x="972.0" y="416.0" width="23.0" height="7.0" fill="#0000ff"/>
<text font-family="Liberation Sans, sans-serif" fill="#0a0a0a" stroke="#fff" stroke-width="0.15" font-size="45" transform="translate(1006,436.6) scale(0.78,1)">Mid element (ef-XJC)</text>
<rect x="876.0" y="476.6" width="32.0" height="7.0" fill="#000000"/>
<rect x="925.5" y="476.6" width="28.8" height="7.0" fill="#000000"/>
<rect x="972.0" y="476.6" width="25.6" height="7.0" fill="#000000"/>
<text font-family="Liberation Sans, sans-serif" fill="#0a0a0a" stroke="#fff" stroke-width="0.15" font-size="45" transform="translate(1006,496.8) scale(0.78,1)">Bottom element (ef-JC)</text>
<rect x="876.0" y="537.2" width="32.0" height="7.0" fill="#ff0000"/>
<rect x="925.5" y="537.2" width="28.8" height="7.0" fill="#ff0000"/>
<rect x="972.0" y="537.2" width="25.6" height="7.0" fill="#ff0000"/>
<text font-family="Liberation Sans, sans-serif" fill="#0a0a0a" stroke="#fff" stroke-width="0.15" font-size="45" transform="translate(1006,557.0) scale(0.78,1)">Bottom element (ef-DJC)</text>
<rect x="876.0" y="597.8" width="32.0" height="7.0" fill="#0000ff"/>
<rect x="925.5" y="597.8" width="28.8" height="7.0" fill="#0000ff"/>
<rect x="972.0" y="597.8" width="25.6" height="7.0" fill="#0000ff"/>
<text font-family="Liberation Sans, sans-serif" fill="#0a0a0a" stroke="#fff" stroke-width="0.15" font-size="45" transform="translate(1006,617.2) scale(0.78,1)">Bottom element (ef-XJC)</text>
</g>
</svg>
</body></html>
